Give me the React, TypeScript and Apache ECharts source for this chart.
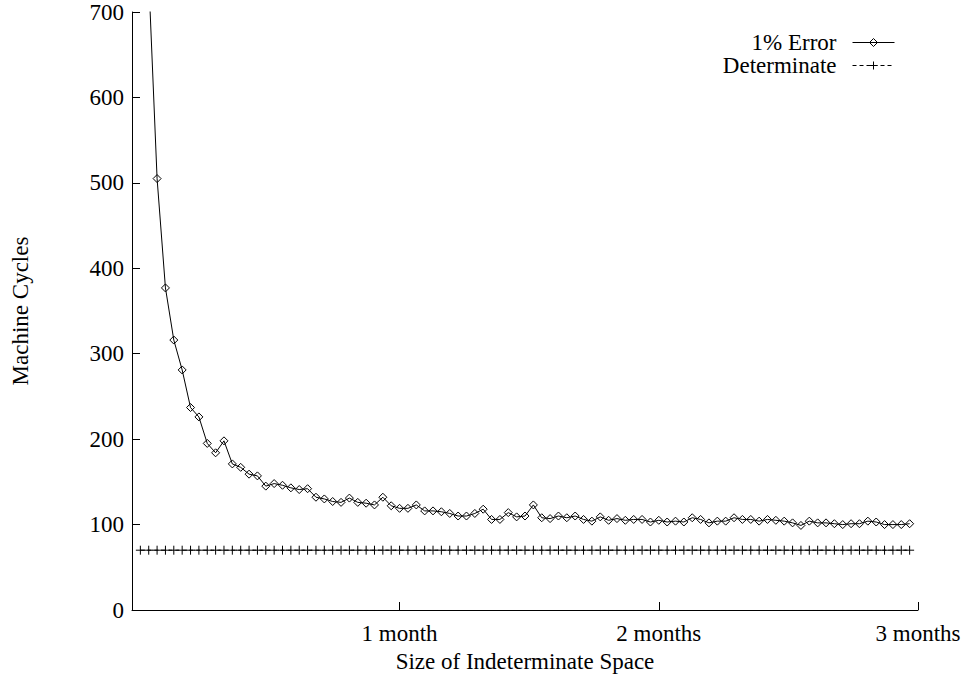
import React, { useEffect, useRef } from "react";
import * as echarts from "echarts";

// x values are days; 1 month = 31 days
const monthTicks = [31, 62, 93];
const monthLabels = ["1 month", "2 months", "3 months"];
const yTicks = [0, 100, 200, 300, 400, 500, 600, 700];

const errorStartDay = 1;
const errorValues = [
  740, 505, 377, 316, 281, 237, 226, 195, 184, 198,
  171, 167, 159, 157, 145, 148, 146, 143, 141, 142,
  132, 130, 127, 126, 131, 126, 125, 123, 132, 122,
  119, 119, 123, 116, 116, 115, 113, 110, 110, 113,
  118, 106, 106, 114, 109, 110, 123, 108, 107, 110,
  108, 110, 106, 104, 109, 105, 107, 105, 106, 106,
  103, 105, 103, 104, 103, 108, 106, 102, 104, 104,
  108, 106, 106, 104, 106, 105, 104, 102, 99, 104,
  102, 102, 101, 100, 101, 101, 104, 103, 100, 100,
  100, 101,
];

const determinateStartDay = 0;
const determinateValues = [
  70, 70, 70, 70, 70, 70, 70, 70, 70, 70,
  70, 70, 70, 70, 70, 70, 70, 70, 70, 70,
  70, 70, 70, 70, 70, 70, 70, 70, 70, 70,
  70, 70, 70, 70, 70, 70, 70, 70, 70, 70,
  70, 70, 70, 70, 70, 70, 70, 70, 70, 70,
  70, 70, 70, 70, 70, 70, 70, 70, 70, 70,
  70, 70, 70, 70, 70, 70, 70, 70, 70, 70,
  70, 70, 70, 70, 70, 70, 70, 70, 70, 70,
  70, 70, 70, 70, 70, 70, 70, 70, 70, 70,
  70, 70, 70,
];

const FONT = "'Liberation Serif', 'Times New Roman', serif";
const PLUS = "path://M4,0 L4,8 M0,4 L8,4";

export default function App() {
  const ref = useRef<HTMLDivElement>(null);
  useEffect(() => {
    if (!ref.current) return;
    const chart = echarts.init(ref.current, null, { renderer: "svg" });
    const errData = errorValues.map((v, i) => [errorStartDay + i, v]);
    const detData = determinateValues.map((v, i) => [determinateStartDay + i, v]);
    chart.setOption({
      animation: false,
      backgroundColor: "#fff",
      textStyle: { fontFamily: FONT, color: "#000" },
      grid: {
        left: 132,
        top: 12,
        right: 48,
        bottom: 64,
        containLabel: false,
        outerBoundsMode: "none",
      },
      legend: {
        orient: "vertical",
        right: 71,
        top: 31,
        padding: 0,
        align: "right",
        itemWidth: 42,
        itemHeight: 10,
        itemGap: 0,
        lineStyle: { width: 1 },
        itemStyle: { borderWidth: 1 },
        textStyle: {
          fontFamily: FONT,
          fontSize: 23,
          color: "#000",
          lineHeight: 21,
          padding: [0, 11, 0, 0],
        },
        data: ["1% Error", "Determinate"],
      },
      xAxis: {
        type: "value",
        min: -1,
        max: 93,
        name: "Size of Indeterminate Space",
        nameLocation: "middle",
        nameGap: 38,
        nameTextStyle: { fontFamily: FONT, fontSize: 23, color: "#000" },
        splitLine: { show: false },
        axisLine: { show: true, onZero: false, lineStyle: { color: "#000", width: 1 } },
        axisTick: {
          show: true,
          inside: true,
          length: 8,
          customValues: monthTicks,
          lineStyle: { color: "#000", width: 1 },
        },
        axisLabel: {
          show: true,
          customValues: monthTicks,
          margin: 12,
          fontFamily: FONT,
          fontSize: 23,
          color: "#000",
          formatter: (v: number) => {
            const idx = monthTicks.indexOf(v);
            return idx >= 0 ? monthLabels[idx] : "";
          },
        },
      },
      yAxis: {
        type: "value",
        min: yTicks[0],
        max: yTicks[yTicks.length - 1],
        interval: 100,
        name: "Machine Cycles",
        nameLocation: "middle",
        nameGap: 100,
        nameTextStyle: { fontFamily: FONT, fontSize: 23, color: "#000" },
        splitLine: { show: false },
        axisLine: { show: true, onZero: false, lineStyle: { color: "#000", width: 1 } },
        axisTick: { show: true, inside: true, length: 8, lineStyle: { color: "#000", width: 1 } },
        axisLabel: { margin: 8, fontFamily: FONT, fontSize: 23, color: "#000" },
      },
      series: [
        {
          name: "1% Error",
          type: "line",
          data: errData,
          clip: true,
          symbol: "diamond",
          symbolSize: 8,
          showAllSymbol: true,
          lineStyle: { color: "#000", width: 1 },
          itemStyle: { color: "rgba(255,255,255,0)", borderColor: "#000", borderWidth: 1 },
          emphasis: { disabled: true },
        },
        {
          name: "Determinate",
          type: "line",
          data: detData,
          clip: true,
          symbol: PLUS,
          symbolSize: 9,
          showAllSymbol: true,
          lineStyle: { color: "#000", width: 1, type: [4, 3] },
          itemStyle: { color: "rgba(255,255,255,0)", borderColor: "#000", borderWidth: 1 },
          emphasis: { disabled: true },
        },
      ],
    });
    return () => chart.dispose();
  }, []);
  return (
    <div
      ref={ref}
      style={{ position: "fixed", left: 0, top: 0, width: 966, height: 674 }}
    />
  );
}
